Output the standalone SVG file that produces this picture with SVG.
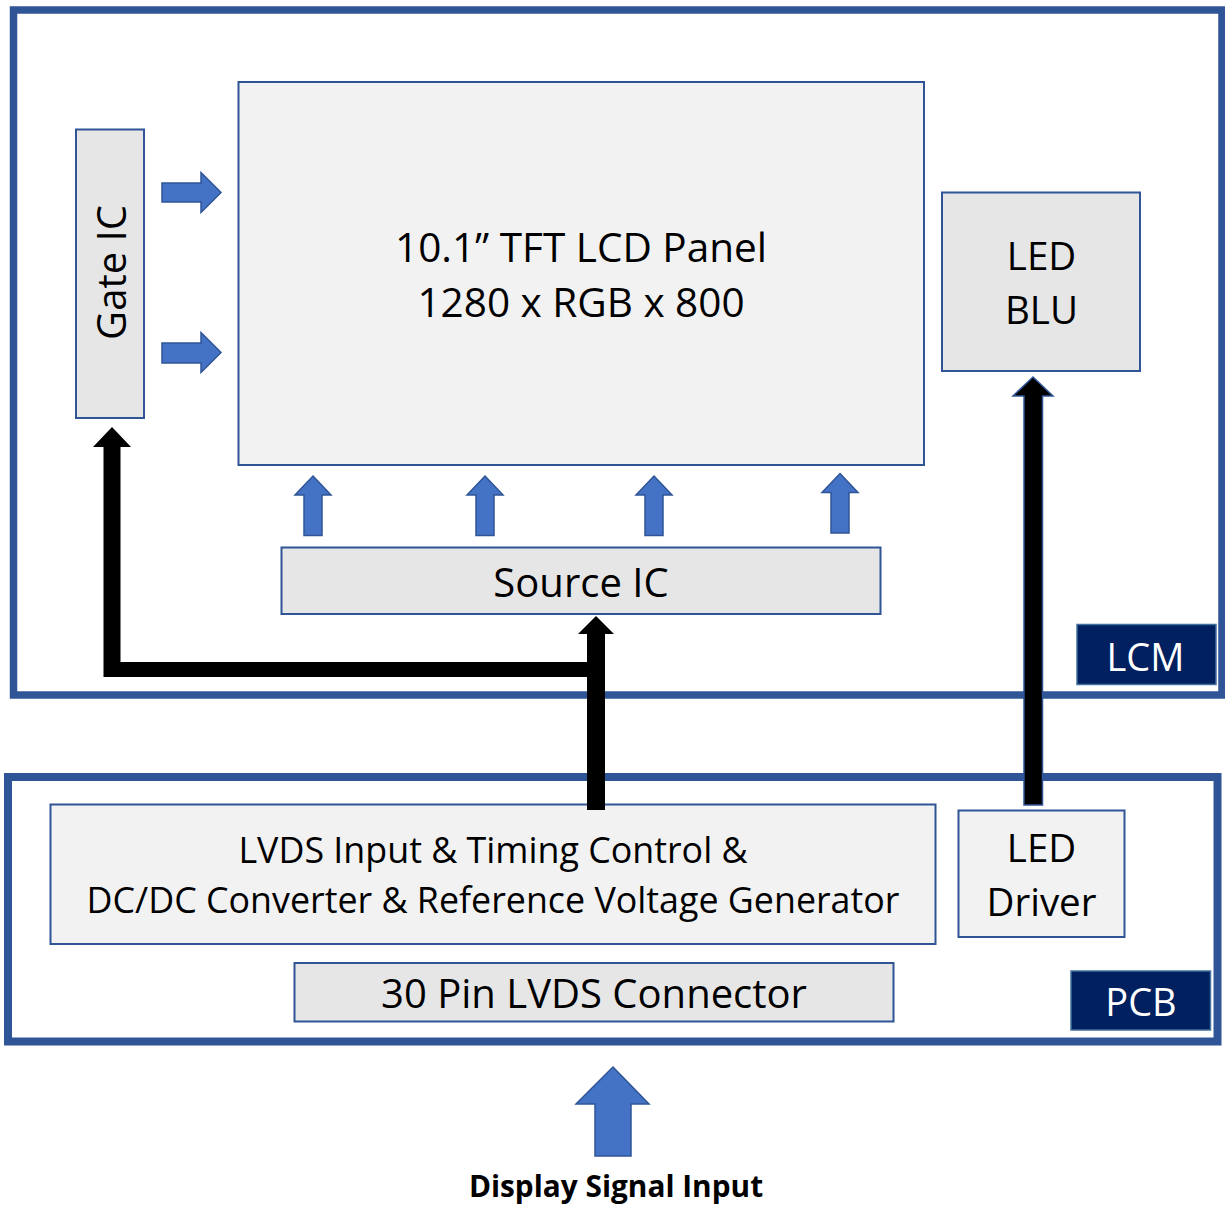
<svg xmlns="http://www.w3.org/2000/svg" width="1225" height="1205" viewBox="0 0 1225 1205">
<style>
  .frame { fill: #ffffff; stroke: #2f5597; stroke-width: 7.5; }
  .box { stroke: #2f5597; stroke-width: 2; }
  .dark { fill: #e6e6e6; }
  .light { fill: #f2f2f2; }
  .tag { fill: #002060; stroke: #41719c; stroke-width: 1.5; }
  .t { font-family: "Open Sans", "Noto Sans", "Liberation Sans", sans-serif; fill: #000000; text-anchor: middle; }
  .big { font-size: 40px; }
  .pan { font-size: 40.5px; }
  .mid { font-size: 38.5px; }
  .lv { font-size: 35.8px; }
  .tagt { font-size: 38px; fill: #ffffff; }
  .bold { font-size: 29.8px; font-weight: bold; }
  .blue { fill: #4472c4; stroke: #2f5597; stroke-width: 1.5; }
  .blk { fill: #000000; }
</style>
<rect width="1225" height="1205" fill="#ffffff"/>

<g id="lcm">
  <rect class="frame" x="13.5" y="10" width="1208.5" height="685"/>
</g>
<g id="pcb">
  <rect class="frame" x="8" y="777" width="1209.5" height="264.5" style="stroke-width:8"/>
</g>

<g id="panel">
  <rect class="box light" x="238.5" y="82" width="685.5" height="383"/>
  <text class="t pan" x="581" y="262">10.1” TFT LCD Panel</text>
  <text class="t pan" x="581" y="317">1280 x RGB x 800</text>
</g>

<g id="gate-ic">
  <rect class="box dark" x="76" y="129.5" width="68" height="288.5"/>
  <text class="t big" transform="translate(126,272.5) rotate(-90)" x="0" y="0">Gate IC</text>
</g>

<g id="led-blu">
  <rect class="box dark" x="942" y="192.5" width="198" height="178.5"/>
  <text class="t mid" x="1041.5" y="270">LED</text>
  <text class="t mid" x="1041.5" y="324">BLU</text>
</g>

<g id="source-ic">
  <rect class="box dark" x="281.5" y="547.5" width="599" height="66.5"/>
  <text class="t big" x="581" y="597">Source IC</text>
</g>

<g id="lcm-label">
  <rect class="tag" x="1077" y="624.5" width="139" height="60"/>
  <text class="t tagt" x="1145.5" y="671">LCM</text>
</g>

<g id="lvds-timing">
  <rect class="box light" x="50.5" y="804.5" width="885" height="139.5"/>
  <text class="t lv" x="493" y="863">LVDS Input &amp; Timing Control &amp;</text>
  <text class="t lv" x="493" y="913">DC/DC Converter &amp; Reference Voltage Generator</text>
</g>

<g id="led-driver">
  <rect class="box light" x="958.5" y="810.5" width="166" height="126.5"/>
  <text class="t mid" x="1041.5" y="862">LED</text>
  <text class="t mid" x="1041.5" y="916">Driver</text>
</g>

<g id="connector-30pin">
  <rect class="box dark" x="294.5" y="963" width="599" height="58.5"/>
  <text class="t big" x="594" y="1008">30 Pin LVDS Connector</text>
</g>

<g id="pcb-label">
  <rect class="tag" x="1071" y="971" width="139.5" height="59"/>
  <text class="t tagt" x="1141" y="1016">PCB</text>
</g>

<g id="display-input">
  <text class="t bold" x="616" y="1197">Display Signal Input</text>
</g>

<g id="connectors">
  <!-- gate IC to panel -->
  <polygon class="blue" points="162,183 201,183 201,172.5 221,192.5 201,212.5 201,202 162,202"/>
  <polygon class="blue" points="162,343 201,343 201,332.5 221,352.5 201,372.5 201,363 162,363"/>
  <!-- source IC to panel -->
  <polygon class="blue" points="313,476 331,495 322,495 322,535.5 304,535.5 304,495 295,495"/>
  <polygon class="blue" points="485,476 503,495 494,495 494,535.5 476,535.5 476,495 467,495"/>
  <polygon class="blue" points="654,476 672,495 663,495 663,535.5 645,535.5 645,495 636,495"/>
  <polygon class="blue" points="840,473.5 858,492.5 849,492.5 849,533 831,533 831,492.5 822,492.5"/>
  <!-- timing controller to source IC and gate IC -->
  <path class="blk" d="M596,616 L614,634 L605,634 L605,810 L587,810 L587,677 L103.5,677 L103.5,447 L93,447 L112,427 L131,447 L120.5,447 L120.5,662 L587,662 L587,634 L578,634 Z"/>
  <!-- LED driver to LED BLU -->
  <path class="blk" d="M1033,377 L1053,396 L1042.5,396 L1042.5,805 L1024,805 L1024,396 L1013,396 Z" stroke="#2f5597" stroke-width="1.5"/>
  <!-- display signal input -->
  <polygon class="blue" points="613,1067 649,1104 631,1104 631,1156 595,1156 595,1104 576,1104"/>
</g>
</svg>
